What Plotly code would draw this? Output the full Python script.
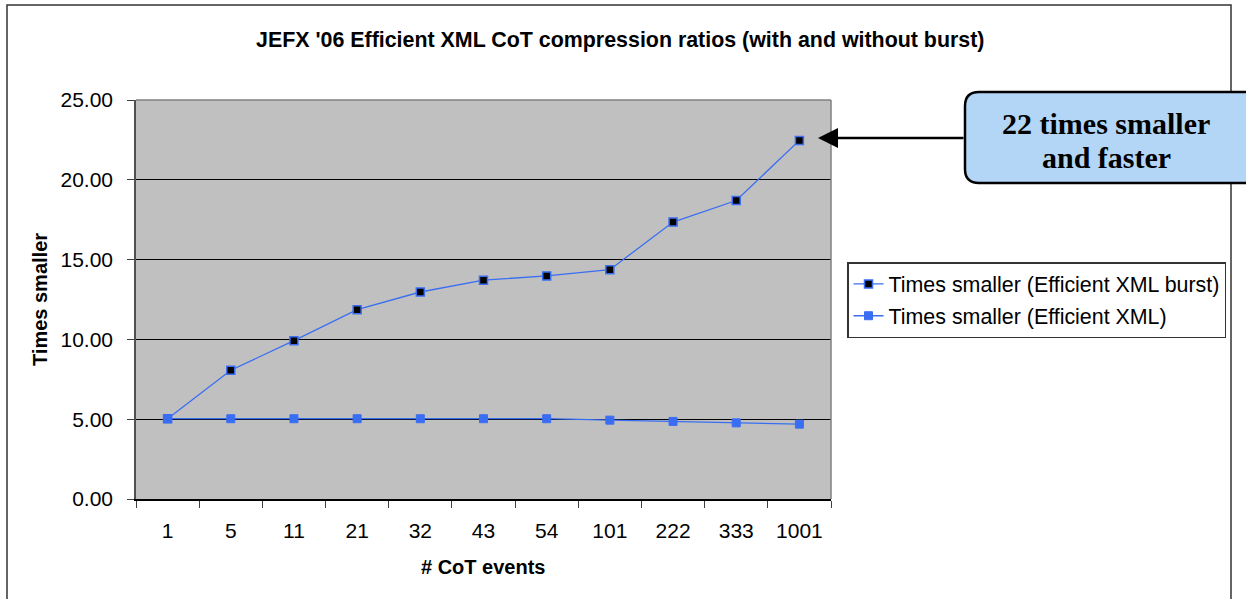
import plotly.graph_objects as go

categories = ["1", "5", "11", "21", "32", "43", "54", "101", "222", "333", "1001"]
burst_vals = [5.03, 8.07, 9.92, 11.86, 12.97, 13.71, 13.98, 14.37, 17.35, 18.70, 22.47]
plain_vals = [5.03, 5.03, 5.03, 5.03, 5.03, 5.03, 5.03, 4.94, 4.86, 4.77, 4.69]
y_ticks = [0, 5, 10, 15, 20, 25]

W, H = 1246, 599
L, R, T, B = 136, 831, 100, 499
pw, ph = R - L, B - T

def px(x):
    return (x - L) / pw

def py(y):
    return (B - y) / ph

blue = "#3A6EF2"
font_sans = "Liberation Sans, Arial, sans-serif"
font_serif = "Liberation Serif, Times New Roman, serif"

fig = go.Figure()
fig.add_trace(go.Scatter(
    x=categories, y=burst_vals, mode="lines+markers",
    name="Times smaller (Efficient XML burst)", legendgroup="a",
    line=dict(color=blue, width=1.3),
    marker=dict(symbol="square", size=8, color="black", line=dict(color=blue, width=1.5)),
))
fig.add_trace(go.Scatter(
    x=categories, y=plain_vals, mode="lines+markers",
    name="Times smaller (Efficient XML)", legendgroup="b",
    line=dict(color=blue, width=1.3),
    marker=dict(symbol="square", size=8, color=blue, line=dict(color=blue, width=1)),
))

shapes = []
# outer frame
shapes.append(dict(type="rect", xref="paper", yref="paper",
                   x0=px(7), x1=px(1231), y0=py(640), y1=py(5),
                   line=dict(color="#333333", width=1.5), layer="below"))
# top and right border of plot area
shapes.append(dict(type="line", xref="paper", yref="paper", x0=0, x1=1, y0=1, y1=1,
                   line=dict(color="#808080", width=1.5)))
shapes.append(dict(type="line", xref="paper", yref="paper", x0=1, x1=1, y0=0, y1=1,
                   line=dict(color="#808080", width=1.5)))
# callout rounded box
bx0, bx1, by0, by1, r = 965, 1262, 92, 183, 14
rx, ry = r / pw, r / ph
X0, X1, Y0, Y1 = px(bx0), px(bx1), py(by1), py(by0)
path = (f"M {X0+rx},{Y1} L {X1-rx},{Y1} Q {X1},{Y1} {X1},{Y1-ry} "
        f"L {X1},{Y0+ry} Q {X1},{Y0} {X1-rx},{Y0} L {X0+rx},{Y0} "
        f"Q {X0},{Y0} {X0},{Y0+ry} L {X0},{Y1-ry} Q {X0},{Y1} {X0+rx},{Y1} Z")
shapes.append(dict(type="path", xref="paper", yref="paper", path=path,
                   fillcolor="#B3D6F7", line=dict(color="black", width=2.5)))

annotations = [
    dict(text="<b>JEFX '06 Efficient XML CoT compression ratios (with and without burst)</b>",
         xref="paper", yref="paper", x=px(620), y=py(40), showarrow=False,
         xanchor="center", yanchor="middle", font=dict(family=font_sans, size=21.4, color="black")),
    dict(text="<b>Times smaller</b>", xref="paper", yref="paper", x=px(40), y=py(300),
         showarrow=False, textangle=-90, xanchor="center", yanchor="middle",
         font=dict(family=font_sans, size=20, color="black")),
    dict(text="<b># CoT events</b>", xref="paper", yref="paper", x=px(483), y=py(567),
         showarrow=False, xanchor="center", yanchor="middle",
         font=dict(family=font_sans, size=20, color="black")),
    dict(text="<b>22 times smaller</b>", xref="paper", yref="paper", x=px(1106), y=py(123),
         showarrow=False, xanchor="center", yanchor="middle",
         font=dict(family=font_serif, size=30, color="black")),
    dict(text="<b>and faster</b>", xref="paper", yref="paper", x=px(1106), y=py(157),
         showarrow=False, xanchor="center", yanchor="middle",
         font=dict(family=font_serif, size=30, color="black")),
    dict(text="", xref="paper", yref="paper", x=px(818), y=py(138),
         ax=965 - 818, ay=0, axref="pixel", ayref="pixel",
         showarrow=True, arrowhead=2, arrowsize=1.6, arrowwidth=2.5, arrowcolor="black"),
]

fig.update_layout(
    width=W, height=H,
    margin=dict(l=L, r=W - R, t=T, b=H - B, pad=0),
    paper_bgcolor="white", plot_bgcolor="#C0C0C0",
    showlegend=True,
    legend=dict(x=px(847), y=py(262), xanchor="left", yanchor="top",
                bgcolor="white", bordercolor="#333333", borderwidth=1.5,
                font=dict(family=font_sans, size=21.4, color="black"),
                tracegroupgap=1),
    xaxis=dict(type="category", categoryorder="array", categoryarray=categories,
               range=[-0.5, len(categories) - 0.5],
               showgrid=False, showline=True, linecolor="black", linewidth=1.5,
               ticks="outside", tickson="boundaries", ticklen=7, tickcolor="#404040",
               tickfont=dict(family=font_sans, size=21, color="black"),
               ticklabelstandoff=12, zeroline=False),
    yaxis=dict(range=[0, 25], tickvals=y_ticks, tickformat=".2f",
               showgrid=True, gridcolor="black", gridwidth=1,
               showline=True, linecolor="#505050", linewidth=1.5,
               ticks="outside", ticklen=7, tickcolor="#404040",
               tickfont=dict(family=font_sans, size=21, color="black"),
               ticklabelstandoff=10, zeroline=False),
    shapes=shapes, annotations=annotations,
)

fig.write_html("out.html")
